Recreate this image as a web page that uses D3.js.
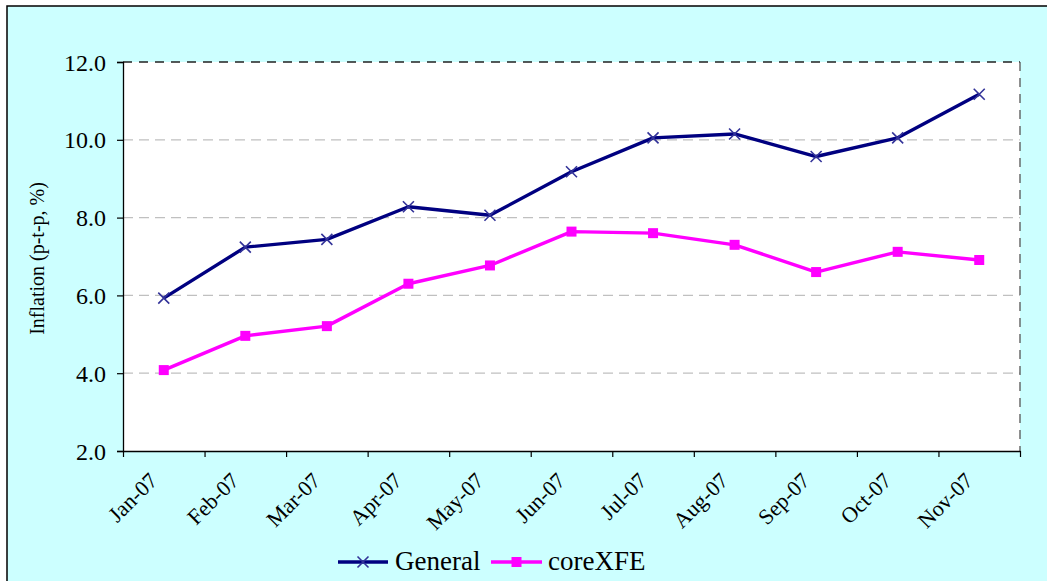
<!DOCTYPE html>
<html>
<head>
<meta charset="utf-8">
<script src="https://cdn.jsdelivr.net/npm/d3@7"></script>
<style>
  html, body { margin: 0; padding: 0; background: #ffffff; }
  svg { display: block; }
</style>
</head>
<body>
<svg id="chart" width="1047" height="581"></svg>
<script>
const categories = ["Jan-07","Feb-07","Mar-07","Apr-07","May-07","Jun-07","Jul-07","Aug-07","Sep-07","Oct-07","Nov-07"];
const general = [5.93, 7.24, 7.44, 8.28, 8.06, 9.18, 10.05, 10.15, 9.57, 10.05, 11.17];
const coreXFE = [4.08, 4.96, 5.21, 6.30, 6.77, 7.64, 7.60, 7.30, 6.60, 7.12, 6.91];
const yTicks = [2, 4, 6, 8, 10, 12];
const seriesNames = ["General", "coreXFE"];
const yTitle = "Inflation (p-t-p, %)";

const FONT = "'Liberation Serif', 'Times New Roman', Times, serif";
const W = 1047, H = 581;
const M = { left: 123, right: 1020, top: 62, bottom: 451 };
const svg = d3.select("#chart");

// outer chart area
svg.append("rect").attr("x", 7).attr("y", 6).attr("width", W).attr("height", H)
  .attr("fill", "#CCFFFF").attr("stroke", "#000").attr("stroke-width", 1.5);

// plot area
svg.append("rect").attr("x", M.left).attr("y", M.top)
  .attr("width", M.right - M.left).attr("height", M.bottom - M.top)
  .attr("fill", "#ffffff");

const x = d3.scaleBand().domain(categories).range([M.left, M.right]).padding(0);
const xc = d => x(d) + x.bandwidth() / 2;
const xEdge = d3.scaleLinear().domain([0, categories.length]).range([M.left, M.right]);
const y = d3.scaleLinear().domain([2, 12]).range([M.bottom, M.top]);

// gridlines
svg.append("g").selectAll("line").data(yTicks.filter(t => t > 2 && t < 12)).join("line")
  .attr("x1", M.left).attr("x2", M.right)
  .attr("y1", d => y(d)).attr("y2", d => y(d))
  .attr("stroke", "#c0c0c0").attr("stroke-width", 1.2).attr("stroke-dasharray", "10,6");

// top and right dashed borders
svg.append("line").attr("x1", M.left).attr("x2", M.right).attr("y1", M.top).attr("y2", M.top)
  .attr("stroke", "#222").attr("stroke-width", 1.3).attr("stroke-dasharray", "9,7");
svg.append("line").attr("x1", M.right).attr("x2", M.right).attr("y1", M.top).attr("y2", M.bottom)
  .attr("stroke", "#555").attr("stroke-width", 1.3).attr("stroke-dasharray", "9,7");

// y axis
const yAxis = d3.axisLeft(y).tickValues(yTicks).tickFormat(d3.format(".1f")).tickSize(6).tickPadding(11);
const gy = svg.append("g").attr("transform", `translate(${M.left},0)`).call(yAxis);
gy.select(".domain").attr("stroke", "#000").attr("stroke-width", 1.3);
gy.selectAll(".tick line").attr("stroke", "#000").attr("stroke-width", 1.2);
gy.selectAll(".tick text").style("font-family", FONT).style("font-size", "24px")
  .attr("fill", "#000").attr("dy", "0.34em");

// x axis tick marks at category boundaries
const xAxis = d3.axisBottom(xEdge).tickValues(d3.range(categories.length + 1)).tickFormat("").tickSize(6).tickSizeOuter(0);
const gx = svg.append("g").attr("transform", `translate(0,${M.bottom})`).call(xAxis);
gx.select(".domain").attr("stroke", "#000").attr("stroke-width", 1.3);
gx.selectAll(".tick line").attr("stroke", "#000").attr("stroke-width", 1.2);

// x labels rotated
svg.append("g").selectAll("text").data(categories).join("text")
  .attr("transform", d => `translate(${xc(d) - 5},${M.bottom + 31}) rotate(-45)`)
  .attr("text-anchor", "end")
  .style("font-family", FONT).style("font-size", "22px")
  .attr("fill", "#000")
  .text(d => d);

// y title
svg.append("text")
  .attr("transform", `translate(44,${(M.top + M.bottom) / 2 + 2}) rotate(-90)`)
  .attr("text-anchor", "middle")
  .style("font-family", FONT).style("font-size", "20px")
  .attr("fill", "#000")
  .text(yTitle);

// lines
const line = d3.line().x((d, i) => xc(categories[i])).y(d => y(d));
svg.append("path").datum(general).attr("d", line)
  .attr("fill", "none").attr("stroke", "#000080").attr("stroke-width", 3.4).attr("stroke-linejoin", "round");
svg.append("path").datum(coreXFE).attr("d", line)
  .attr("fill", "none").attr("stroke", "#FF00FF").attr("stroke-width", 3.4).attr("stroke-linejoin", "round");

// markers
const xm = 5.5;
const xMarkPath = `M${-xm},${-xm}L${xm},${xm}M${-xm},${xm}L${xm},${-xm}`;
svg.append("g").selectAll("path").data(general).join("path")
  .attr("transform", (d, i) => `translate(${xc(categories[i])},${y(d)})`)
  .attr("d", xMarkPath).attr("stroke", "#333399").attr("stroke-width", 1.6).attr("fill", "none");
svg.append("g").selectAll("rect").data(coreXFE).join("rect")
  .attr("x", (d, i) => xc(categories[i]) - 5).attr("y", d => y(d) - 5)
  .attr("width", 10).attr("height", 10).attr("fill", "#FF00FF");

// legend
const leg = svg.append("g");
const legItems = [
  { name: seriesNames[0], x1: 338, x2: 388, tx: 395, color: "#000080", marker: "x" },
  { name: seriesNames[1], x1: 491, x2: 542, tx: 548, color: "#FF00FF", marker: "sq" }
];
const ly = 562;
legItems.forEach(it => {
  leg.append("line").attr("x1", it.x1).attr("x2", it.x2).attr("y1", ly).attr("y2", ly)
    .attr("stroke", it.color).attr("stroke-width", 3.4);
  const mx = (it.x1 + it.x2) / 2;
  if (it.marker === "x") {
    leg.append("path").attr("transform", `translate(${mx},${ly})`).attr("d", xMarkPath)
      .attr("stroke", "#333399").attr("stroke-width", 1.6).attr("fill", "none");
  } else {
    leg.append("rect").attr("x", mx - 5).attr("y", ly - 5).attr("width", 10).attr("height", 10).attr("fill", it.color);
  }
  leg.append("text").attr("x", it.tx).attr("y", 570)
    .style("font-family", FONT).style("font-size", "27px").attr("fill", "#000").text(it.name);
});
</script>
</body>
</html>
